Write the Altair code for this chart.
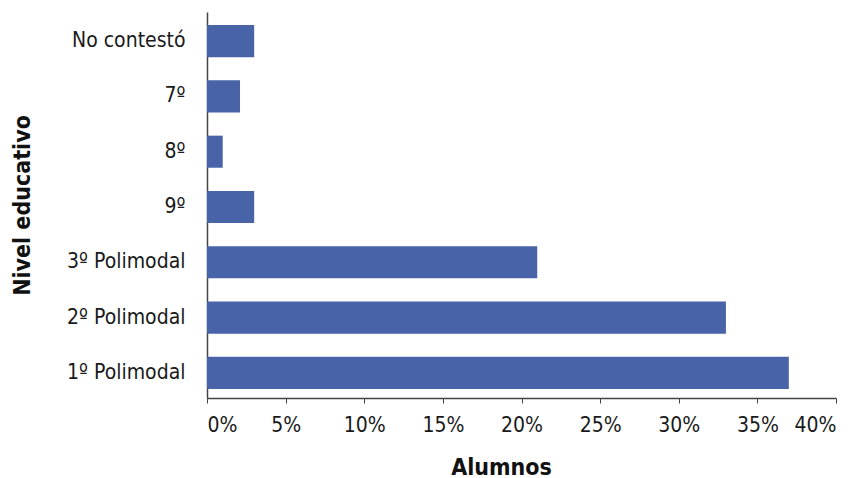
import altair as alt
import pandas as pd

categories = ["No contestó", "7º", "8º", "9º", "3º Polimodal", "2º Polimodal", "1º Polimodal"]
values = [0.030, 0.021, 0.010, 0.030, 0.210, 0.330, 0.370]

df = pd.DataFrame({"nivel": categories, "pct": values})

FONT = "Liberation Sans Narrow, DejaVu Sans Condensed, Open Sans, sans-serif"

chart = alt.Chart(df).mark_bar(color="#4863a8").encode(
    x=alt.X("pct:Q",
            scale=alt.Scale(domain=[0, 0.40], nice=False),
            axis=alt.Axis(title="Alumnos", format=".0%", values=[i * 0.05 for i in range(9)],
                          grid=False, domainColor="#444", domainWidth=1.5,
                          tickColor="#444", tickSize=5, tickWidth=1,
                          labelFont=FONT, labelFontSize=21, labelColor="#1a1a1a", labelPadding=11,
                          titleFont=FONT, titleFontSize=23, titleFontWeight="bold", titleColor="#111",
                          titleX=294, titleY=69, titleBaseline="middle", titleAnchor="middle")),
    y=alt.Y("nivel:N", sort=categories,
            scale=alt.Scale(paddingInner=0.42, paddingOuter=0.2, align=0.59),
            axis=alt.Axis(title="Nivel educativo", ticks=False, domainColor="#444", domainWidth=1.5,
                          labelFont=FONT, labelFontSize=21, labelColor="#1a1a1a", labelPadding=22,
                          titleFont=FONT, titleFontSize=23, titleFontWeight="bold", titleColor="#111",
                          titleX=-185, titleY=193, titleAngle=-90, titleBaseline="middle",
                          titleAlign="center")),
).properties(
    width=629, height=386,
    autosize=alt.AutoSizeParams(type="none"),
    padding={"left": 199, "top": 4, "right": 8, "bottom": 80},
).configure_view(stroke=None)

chart.save("out.html", embed_options={"renderer": "svg", "actions": False})
